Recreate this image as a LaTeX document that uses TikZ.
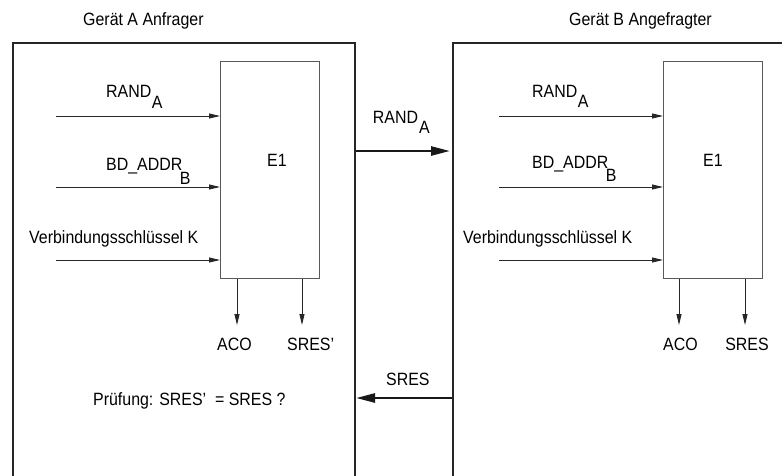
\documentclass[tikz,border=0pt]{standalone}
\usepackage{fontspec}
\setmainfont{Liberation Sans}[FakeStretch=0.895]
\usetikzlibrary{arrows.meta}
\begin{document}
\begin{tikzpicture}[x=1pt,y=-1pt,
  font=\fontsize{17.8}{20}\selectfont,
  outer/.style={line width=2pt, draw=black!85},
  fnbox/.style={draw=black!65, line width=1pt, inner sep=0pt, anchor=north west, minimum width=99pt, minimum height=217pt},
  inarrow/.style={-{Triangle[length=11pt,width=5pt]}, line width=0.9pt, black!85},
  bigarrow/.style={-{Triangle[length=19pt,width=9pt]}, line width=2.6pt, black!90},
  lbl/.style={inner sep=0pt, anchor=base west},
  clbl/.style={inner sep=0pt, anchor=base}]
\useasboundingbox (0,0) rectangle (782,475);
\fill[white] (0,0) rectangle (782,475);

% outer device frames
\coordinate (aBL) at (13,477); \coordinate (aTL) at (13,43);
\coordinate (aTR) at (355,43); \coordinate (aBR) at (355,477);
\draw[outer] (aBL) -- (aTL) -- (aTR) -- (aBR);
\coordinate (bBL) at (453,477); \coordinate (bTL) at (453,43);
\coordinate (bTR) at (784,43);
\draw[outer] (bBL) -- (bTL) -- (bTR);

\node[lbl] (titA) at (83,25) {Gerät A Anfrager};
\node[lbl] (titB) at (569,25) {Gerät B Angefragter};

% E1 boxes
\node[fnbox] (e1a) at (220,61) {};
\node[fnbox] (e1b) at (663,61) {};
\node[lbl] (e1at) at (267,166.5) {E1};
\node[lbl] (e1bt) at (703,166.5) {E1};

% inputs device A
\coordinate (ia1) at (56,116);
\coordinate (ia2) at (56,187);
\coordinate (ia3) at (56,260);
\draw[inarrow] (ia1) -- (e1a.west |- ia1);
\draw[inarrow] (ia2) -- (e1a.west |- ia2);
\draw[inarrow] (ia3) -- (e1a.west |- ia3);
\node[lbl] (randa) at (106,97.7) {RAND\kern0.5pt\raisebox{-10.6pt}{A}};
\node[lbl] (bda) at (106,170) {BD\_ADDR\kern-2.5pt\raisebox{-14pt}{B}};
\node[lbl] (ka) at (29,243.3) {Verbindungsschlüssel K};

% inputs device B
\coordinate (ib1) at (499,116);
\coordinate (ib2) at (499,187);
\coordinate (ib3) at (499,260);
\draw[inarrow] (ib1) -- (e1b.west |- ib1);
\draw[inarrow] (ib2) -- (e1b.west |- ib2);
\draw[inarrow] (ib3) -- (e1b.west |- ib3);
\node[lbl] (randb) at (532,97.7) {RAND\kern0.5pt\raisebox{-10pt}{A}};
\node[lbl] (bdb) at (532,168) {BD\_ADDR\kern-2.5pt\raisebox{-13pt}{B}};
\node[lbl] (kb) at (463,243.3) {Verbindungsschlüssel K};

% outputs device A
\coordinate (oa1) at (237,325);
\coordinate (oa2) at (302,325);
\draw[inarrow] (oa1 |- e1a.south) -- (oa1);
\draw[inarrow] (oa2 |- e1a.south) -- (oa2);
\node[clbl] (acoa) at (234.5,350.7) {ACO};
\node[lbl] (sresa) at (287,350.7) {SRES’};
\node[lbl] (pruef) at (93,405) {Prüfung: SRES’\ \ = SRES ?};

% outputs device B
\coordinate (ob1) at (679,325);
\coordinate (ob2) at (745,325);
\draw[inarrow] (ob1 |- e1b.south) -- (ob1);
\draw[inarrow] (ob2 |- e1b.south) -- (ob2);
\node[clbl] (acob) at (680.5,350.7) {ACO};
\node[clbl] (sresb) at (747,350.7) {SRES};

% exchanged messages
\coordinate (m1s) at (356,151);
\coordinate (m1e) at (450,151);
\draw[bigarrow] (m1s) -- (m1e);
\node[lbl] (mrand) at (372.7,123.3) {RAND};
\node[lbl] (mrandsub) at (419,133.3) {A};
\coordinate (m2s) at (452,398);
\coordinate (m2e) at (356,398);
\draw[bigarrow] (m2s) -- (m2e);
\node[lbl] (msres) at (386,385.7) {SRES};
\end{tikzpicture}
\end{document}
